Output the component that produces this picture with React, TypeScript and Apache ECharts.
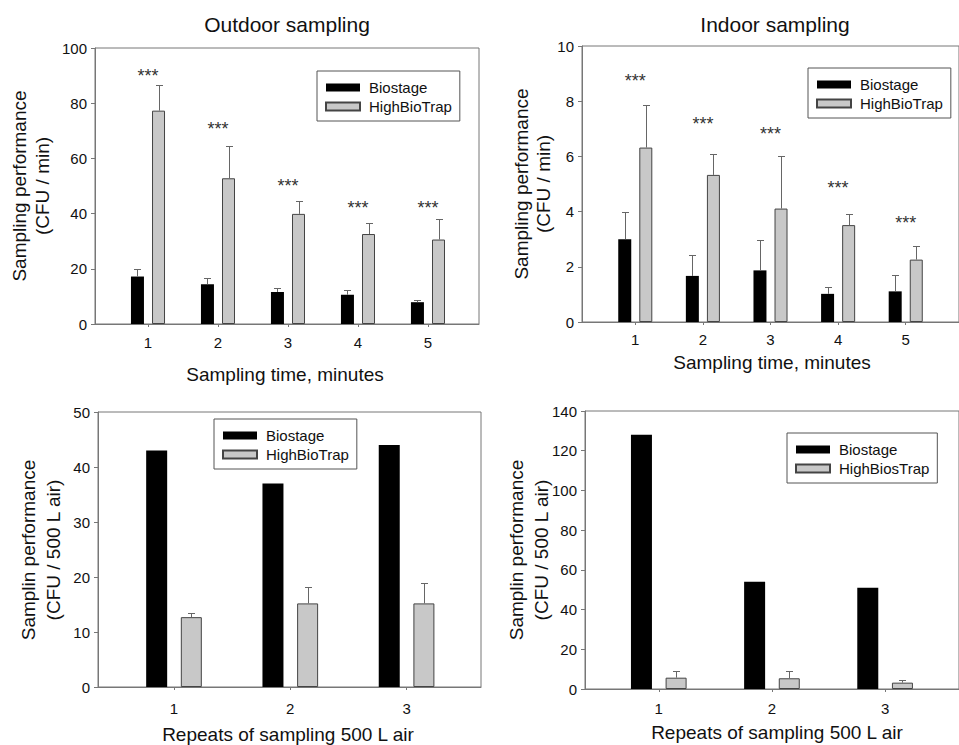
import React, { useEffect, useRef } from "react";
import * as echarts from "echarts";

// ---------- data ----------
const timeCats = [1, 2, 3, 4, 5];
const outdoorBiostage = [17.2, 14.4, 11.6, 10.6, 7.9];
const outdoorBiostageErr = [2.6, 2.2, 1.3, 1.6, 0.8];
const outdoorHighBioTrap = [77.3, 52.8, 39.9, 32.6, 30.6];
const outdoorHighBioTrapErr = [9.2, 11.8, 4.7, 4.0, 7.5];
const outdoorStarY = [91, 71.6, 51, 43, 43];

const indoorBiostage = [3.0, 1.67, 1.87, 1.02, 1.11];
const indoorBiostageErr = [1.0, 0.75, 1.09, 0.24, 0.58];
const indoorHighBioTrap = [6.32, 5.33, 4.11, 3.51, 2.26];
const indoorHighBioTrapErr = [1.53, 0.75, 1.91, 0.41, 0.5];
const indoorStarY = [8.85, 7.28, 6.92, 4.96, 3.69];

const repeatCats = [1, 2, 3];
const outdoorRepBiostage = [43, 37, 44];
const outdoorRepHighBioTrap = [12.7, 15.2, 15.2];
const outdoorRepHighBioTrapErr = [0.8, 2.9, 3.8];

const indoorRepBiostage = [128, 54, 51];
const indoorRepHighBiosTrap = [5.7, 5.4, 3.2];
const indoorRepHighBiosTrapErr = [3.2, 3.8, 1.2];

const titles = ["Outdoor sampling", "Indoor sampling"];
const xNames = ["Sampling time, minutes", "Sampling time, minutes", "Repeats of sampling 500 L air", "Repeats of sampling 500 L air"];
const yNames = [
  "Sampling performance\n(CFU / min)",
  "Sampling performance\n(CFU / min)",
  "Samplin performance\n(CFU / 500 L air)",
  "Samplin performance\n(CFU / 500 L air)",
];
const legendNames = [
  ["Biostage", "HighBioTrap"],
  ["Biostage", "HighBioTrap"],
  ["Biostage", "HighBioTrap"],
  ["Biostage", "HighBiosTrap"],
];
const yMax = [100, 10, 50, 140];
const yInterval = [20, 2, 10, 20];

// ---------- styling ----------
const FONT = '"Liberation Sans", Arial, sans-serif';
const TXT = "#111";
const FRAME = "#777";
const BLACK = "#000";
const GRAY = "#c8c8c8";
const GRAY_BORDER = "#444";
const ERR = "#666";

const grids = [
  { left: 95, top: 48, width: 384, height: 276 },
  { left: 582, top: 46, width: 387, height: 276 },
  { left: 98, top: 412, width: 383, height: 275 },
  { left: 585, top: 411, width: 385, height: 278 },
];
const xRanges = [
  [0.243, 5.729],
  [0.212, 5.788],
  [0.3465, 3.64],
  [0.348, 3.653],
];
const barWidths = [13, 13, 21, 21];
const barGaps = ["62%", "62%", "65%", "65%"];
const labelMargins = [11, 10, 14, 12];
const legendPos = [
  { left: 317, top: 71 },
  { left: 808, top: 68 },
  { left: 214, top: 419 },
  { left: 787, top: 433 },
];

function pairs(cats: number[], vals: number[]) {
  return cats.map((c, i) => [c, vals[i]]);
}
function triples(cats: number[], vals: number[], errs: number[]) {
  return cats.map((c, i) => [c, vals[i], errs[i]]);
}

function errRender(offset: number) {
  return (_params: any, api: any) => {
    const x = api.value(0);
    const y = api.value(1);
    const e = api.value(2);
    const p0 = api.coord([x, y]);
    const p1 = api.coord([x, y + e]);
    const cx = Math.round(p0[0] + offset) + 0.5;
    const ty = Math.round(p1[1]) + 0.5;
    return {
      type: "group",
      children: [
        { type: "line", shape: { x1: cx, y1: p0[1], x2: cx, y2: ty }, style: { stroke: ERR, lineWidth: 1 } },
        { type: "line", shape: { x1: cx - 3.5, y1: ty, x2: cx + 3.5, y2: ty }, style: { stroke: ERR, lineWidth: 1 } },
      ],
    };
  };
}

function starRender(_params: any, api: any) {
  const p = api.coord([api.value(0), api.value(1)]);
  return {
    type: "text",
    x: p[0],
    y: p[1] + 3,
    style: {
      text: "***",
      font: `18px ${FONT}`,
      fill: "#333",
      align: "center",
      verticalAlign: "middle",
    },
  };
}

function buildOption() {
  const series: any[] = [];
  const panelData = [
    { cats: timeCats, bio: outdoorBiostage, bioErr: outdoorBiostageErr, high: outdoorHighBioTrap, highErr: outdoorHighBioTrapErr, stars: outdoorStarY },
    { cats: timeCats, bio: indoorBiostage, bioErr: indoorBiostageErr, high: indoorHighBioTrap, highErr: indoorHighBioTrapErr, stars: indoorStarY },
    { cats: repeatCats, bio: outdoorRepBiostage, bioErr: null, high: outdoorRepHighBioTrap, highErr: outdoorRepHighBioTrapErr, stars: null },
    { cats: repeatCats, bio: indoorRepBiostage, bioErr: null, high: indoorRepHighBiosTrap, highErr: indoorRepHighBiosTrapErr, stars: null },
  ];

  panelData.forEach((p, i) => {
    const w = barWidths[i];
    const gapPx = (parseFloat(barGaps[i]) / 100) * w;
    const off = (w + gapPx) / 2;
    series.push({
      name: legendNames[i][0],
      type: "bar",
      xAxisIndex: i,
      yAxisIndex: i,
      data: pairs(p.cats, p.bio),
      barWidth: w,
      barGap: barGaps[i],
      itemStyle: { color: BLACK, borderColor: BLACK, borderWidth: 0 },
      z: 2,
    });
    series.push({
      name: legendNames[i][1],
      type: "bar",
      xAxisIndex: i,
      yAxisIndex: i,
      data: pairs(p.cats, p.high),
      barWidth: w,
      barGap: barGaps[i],
      itemStyle: { color: GRAY, borderColor: GRAY_BORDER, borderWidth: 1 },
      z: 2,
    });
    if (p.bioErr) {
      series.push({
        type: "custom",
        xAxisIndex: i,
        yAxisIndex: i,
        data: triples(p.cats, p.bio, p.bioErr),
        renderItem: errRender(-off),
        z: 3,
        silent: true,
      });
    }
    series.push({
      type: "custom",
      xAxisIndex: i,
      yAxisIndex: i,
      data: triples(p.cats, p.high, p.highErr),
      renderItem: errRender(off),
      z: 3,
      silent: true,
    });
    if (p.stars) {
      series.push({
        type: "custom",
        xAxisIndex: i,
        yAxisIndex: i,
        data: pairs(p.cats, p.stars),
        renderItem: starRender,
        z: 4,
        silent: true,
      });
    }
  });

  const xAxis = grids.map((_, i) => {
    const cats = i < 2 ? timeCats : repeatCats;
    return {
      type: "value",
      gridIndex: i,
      min: xRanges[i][0],
      max: xRanges[i][1],
      splitLine: { show: false },
      axisLine: { show: true, onZero: false, lineStyle: { color: FRAME, width: 1 } },
      axisTick: { show: true, customValues: cats, length: 3, lineStyle: { color: FRAME } },
      axisLabel: { customValues: cats, margin: labelMargins[i], fontSize: 15, color: TXT, fontFamily: FONT },
    };
  });

  const yAxis = grids.map((_, i) => ({
    type: "value",
    gridIndex: i,
    min: 0,
    max: yMax[i],
    interval: yInterval[i],
    splitLine: { show: false },
    axisLine: { show: true, lineStyle: { color: FRAME, width: 1 } },
    axisTick: { show: true, length: 4, lineStyle: { color: FRAME } },
    axisLabel: { margin: 8, fontSize: 15, color: TXT, fontFamily: FONT },
  }));

  const legend = legendNames.map((names, i) => ({
    orient: "vertical",
    left: legendPos[i].left,
    top: legendPos[i].top,
    data: names,
    selectedMode: false,
    icon: "rect",
    itemWidth: 34,
    itemHeight: 8,
    itemGap: 4,
    padding: [9, 8, 7, 8],
    backgroundColor: "#fff",
    borderColor: "#555",
    borderWidth: 1,
    borderRadius: 0,
    textStyle: { fontSize: 15, color: TXT, fontFamily: FONT, padding: [0, 0, 0, 4], lineHeight: 15 },
  }));

  const graphic: any[] = [
    { type: "text", x: 287, y: 24, style: { text: titles[0], font: `21px ${FONT}`, fill: TXT, align: "center", verticalAlign: "middle" } },
    { type: "text", x: 775, y: 24, style: { text: titles[1], font: `21px ${FONT}`, fill: TXT, align: "center", verticalAlign: "middle" } },
    { type: "text", x: 285, y: 374, style: { text: xNames[0], font: `19px ${FONT}`, fill: TXT, align: "center", verticalAlign: "middle" } },
    { type: "text", x: 772, y: 362, style: { text: xNames[1], font: `19px ${FONT}`, fill: TXT, align: "center", verticalAlign: "middle" } },
    { type: "text", x: 288, y: 734, style: { text: xNames[2], font: `19px ${FONT}`, fill: TXT, align: "center", verticalAlign: "middle" } },
    { type: "text", x: 777, y: 732, style: { text: xNames[3], font: `19px ${FONT}`, fill: TXT, align: "center", verticalAlign: "middle" } },
  ];
  const yNamePos = [
    { x: 30.5, y: 186, lh: 23 },
    { x: 532.5, y: 184, lh: 22 },
    { x: 40.5, y: 550, lh: 25 },
    { x: 529, y: 550, lh: 25 },
  ];
  yNamePos.forEach((p, i) => {
    graphic.push({
      type: "text",
      x: p.x,
      y: p.y,
      rotation: Math.PI / 2,
      style: {
        text: yNames[i],
        font: `19px ${FONT}`,
        fill: TXT,
        align: "center",
        verticalAlign: "middle",
        lineHeight: p.lh,
      },
    });
  });

  return {
    animation: false,
    backgroundColor: "#fff",
    textStyle: { fontFamily: FONT },
    grid: grids.map((g) => ({
      ...g,
      show: true,
      borderColor: FRAME,
      borderWidth: 1,
      backgroundColor: "transparent",
      containLabel: false,
    })),
    xAxis,
    yAxis,
    legend,
    series,
    graphic,
  };
}

export default function App() {
  const ref = useRef<HTMLDivElement>(null);
  useEffect(() => {
    if (!ref.current) return;
    const chart = echarts.init(ref.current, undefined, { renderer: "svg" });
    chart.setOption(buildOption() as any);
    return () => chart.dispose();
  }, []);
  return (
    <div
      ref={ref}
      style={{ position: "fixed", left: 0, top: 0, width: 959, height: 745, background: "#fff" }}
    />
  );
}
